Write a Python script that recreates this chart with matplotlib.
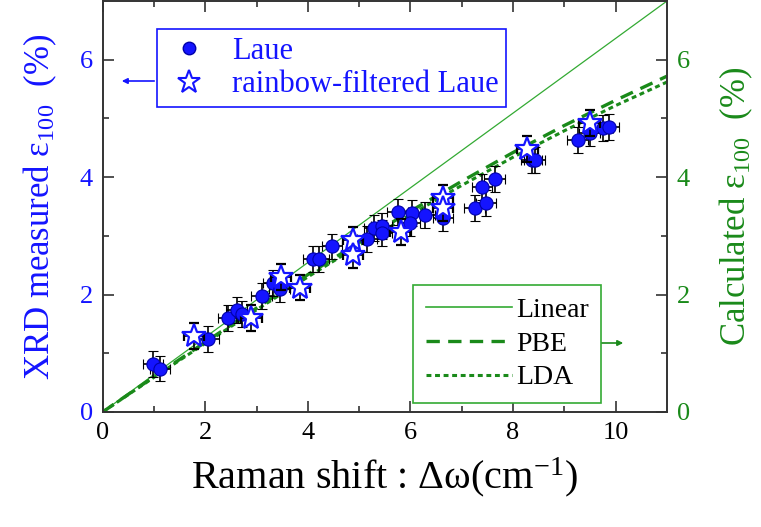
import numpy as np
import matplotlib.pyplot as plt
from matplotlib.lines import Line2D

plt.rcParams['font.family'] = ['Liberation Serif', 'DejaVu Serif']
plt.rcParams['mathtext.fontset'] = 'custom'
plt.rcParams['mathtext.rm'] = 'Liberation Serif'
plt.rcParams['mathtext.it'] = 'Liberation Serif:italic'

# Laue (filled circles)
laue_x = [0.98, 1.12, 2.06, 2.44, 2.61, 2.71, 3.10, 3.32, 3.45, 4.10, 4.22, 4.47,
          5.15, 5.29, 5.44, 5.44, 5.75, 6.03, 5.99, 6.28, 6.63, 7.25, 7.47, 7.39,
          7.64, 8.36, 8.42, 9.26, 9.49, 9.75, 9.86]
laue_y = [0.82, 0.74, 1.25, 1.60, 1.74, 1.67, 1.98, 2.20, 2.10, 2.60, 2.60, 2.82,
          2.95, 3.13, 3.17, 3.05, 3.41, 3.39, 3.22, 3.36, 3.30, 3.48, 3.56, 3.83,
          3.97, 4.29, 4.29, 4.63, 4.75, 4.84, 4.86]
# rainbow-filtered Laue (open stars)
star_x = [1.78, 2.90, 3.48, 3.85, 4.88, 4.88, 5.81, 6.63, 6.63, 8.28, 9.49]
star_y = [1.30, 1.60, 2.30, 2.12, 2.93, 2.68, 3.07, 3.64, 3.47, 4.48, 4.92]
x_err = 0.2
y_err = 0.22

# calculated curves
calc_x = [0, 1, 2, 3, 4, 5, 6, 7, 8, 9, 10, 11]
pbe_y = [0, 0.60, 1.19, 1.77, 2.34, 2.89, 3.42, 3.93, 4.42, 4.88, 5.31, 5.72]
lda_y = [0, 0.59, 1.17, 1.74, 2.30, 2.84, 3.36, 3.86, 4.34, 4.79, 5.22, 5.62]
linear_x = [0, 11]
linear_y = [0, 7.0]

blue = '#1414ff'
green = '#1a8a1a'
W, H = 761, 527

fig = plt.figure(figsize=(W / 100, H / 100), dpi=100)
ax = fig.add_axes([102.6 / W, 1 - 412 / H, (667 - 102.6) / W, (412 - 1) / H])
ax2 = ax.twinx()

ax.plot(linear_x, linear_y, color='#33aa33', lw=0.9, zorder=1)
ax.plot(calc_x, pbe_y, color=green, lw=2.4, ls=(0, (4, 2.5)), zorder=1)
ax.plot(calc_x, lda_y, color=green, lw=2.2, ls=(0, (1.6, 1.2)), zorder=1)

ax.errorbar(laue_x, laue_y, xerr=x_err, yerr=y_err, fmt='o', ms=9.5,
            mfc=blue, mec='#0000aa', mew=0.8, ecolor='black', elinewidth=1.2,
            capsize=3.5, capthick=1.2, zorder=3)
ax.errorbar(star_x, star_y, xerr=x_err, yerr=y_err, fmt='*', ms=18,
            mfc='white', mec=blue, mew=1.6, ecolor='black', elinewidth=1.2,
            capsize=3.5, capthick=1.2, zorder=4)

for a in (ax, ax2):
    a.set_xlim(0, 11)
    a.set_ylim(0, 7)
    for s in a.spines.values():
        s.set_color('#333333')
        s.set_linewidth(1.2)

ax.set_xticks([0, 2, 4, 6, 8, 10])
ax.set_xticks([1, 3, 5, 7, 9], minor=True)
ax.set_yticks([0, 2, 4, 6])
ax.set_yticks([1, 3, 5], minor=True)
ax2.set_yticks([0, 2, 4, 6])
ax2.set_yticks([1, 3, 5], minor=True)

ax.tick_params(which='both', direction='in', top=True, colors='#333333', width=1.2)
ax.tick_params(which='major', length=8, labelsize=19, pad=7)
ax.tick_params(which='minor', length=4)
ax.tick_params(axis='x', labelcolor='black')
ax.tick_params(axis='y', labelcolor=blue)
ax2.tick_params(which='both', direction='in', colors='#333333', width=1.2)
ax2.tick_params(which='major', length=8, labelsize=19, pad=7, labelcolor=green)
ax2.tick_params(which='minor', length=4)

ax.set_ylabel(r'XRD measured $\mathrm{\varepsilon}_{100}$  (%)', color=blue,
              fontsize=25, labelpad=15)
ax2.set_ylabel(r'Calculated $\mathrm{\varepsilon}_{100}$  (%)', color=green,
               fontsize=25, labelpad=20)
ax.set_xlabel('Raman shift : Δω(cm$^{-1}$)', fontsize=29, labelpad=8)

h1 = [Line2D([], [], ls='none', marker='o', ms=9, mfc=blue, mec='#0000aa'),
      Line2D([], [], ls='none', marker='*', ms=17, mfc='white', mec=blue, mew=1.5)]
leg1 = ax.legend(h1, ['Laue', 'rainbow-filtered Laue'], loc='upper left',
                 bbox_to_anchor=(157 / W, 1 - 29 / H), bbox_transform=fig.transFigure,
                 fontsize=22, fancybox=False, framealpha=1, edgecolor=blue,
                 labelcolor=blue, handlelength=1.6, handletextpad=0.6, borderpad=0.25,
                 labelspacing=0.15, borderaxespad=0)
leg1.get_frame().set_linewidth(1.2)
ax.add_artist(leg1)

h2 = [Line2D([], [], color='#33aa33', lw=1.2),
      Line2D([], [], color=green, lw=2.4, ls=(0, (4, 2.5))),
      Line2D([], [], color=green, lw=2.2, ls=(0, (1.6, 1.2)))]
leg2 = ax.legend(h2, ['Linear', 'PBE', 'LDA'], loc='upper left',
                 bbox_to_anchor=(413 / W, 1 - 285 / H), bbox_transform=fig.transFigure,
                 fontsize=20, fancybox=False, framealpha=1, edgecolor='#33aa33',
                 handlelength=3.1, handletextpad=0.15, borderpad=0.45, labelspacing=0.3,
                 borderaxespad=0)
leg2.get_frame().set_linewidth(1.2)

ax.annotate('', xy=(119 / W, 1 - 81 / H), xytext=(157 / W, 1 - 81 / H),
            xycoords='figure fraction', textcoords='figure fraction',
            arrowprops=dict(arrowstyle='-|>', color=blue, lw=1.2, mutation_scale=8))
ax.annotate('', xy=(626 / W, 1 - 343 / H), xytext=(597 / W, 1 - 343 / H),
            xycoords='figure fraction', textcoords='figure fraction',
            arrowprops=dict(arrowstyle='-|>', color=green, lw=1.2, mutation_scale=8))

fig.savefig('out.png', dpi=100)
